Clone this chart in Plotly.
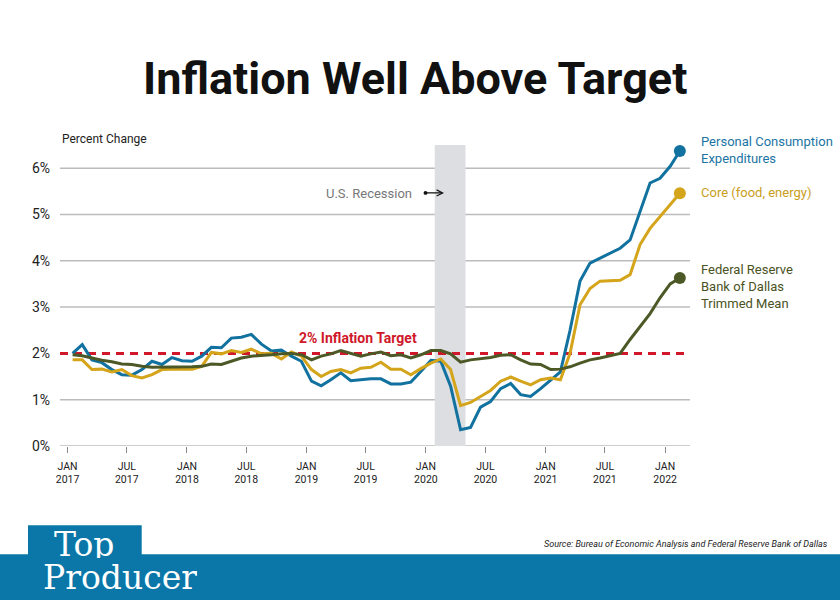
import plotly.graph_objects as go
import pandas as pd

# ---------------- data ----------------
months = pd.date_range("2017-01-01", "2022-02-01", freq="MS")

pce = [2.00, 2.19, 1.86, 1.80, 1.65, 1.54, 1.53, 1.65, 1.83, 1.76, 1.91, 1.84,
       1.83, 1.94, 2.13, 2.12, 2.33, 2.35, 2.41, 2.20, 2.05, 2.07, 1.94, 1.83,
       1.40, 1.30, 1.43, 1.58, 1.41, 1.43, 1.45, 1.45, 1.34, 1.34, 1.38, 1.61,
       1.85, 1.83, 1.29, 0.35, 0.40, 0.84, 0.96, 1.24, 1.35, 1.11, 1.07, 1.24,
       1.42, 1.60, 2.50, 3.56, 3.95, 4.06, 4.16, 4.27, 4.45, 5.08, 5.68, 5.78,
       6.04, 6.37]

core = [1.86, 1.86, 1.65, 1.66, 1.60, 1.65, 1.52, 1.47, 1.54, 1.65, 1.66, 1.66,
        1.66, 1.72, 2.02, 1.99, 2.06, 2.02, 2.09, 1.99, 2.00, 1.88, 2.03, 1.94,
        1.65, 1.50, 1.61, 1.65, 1.58, 1.68, 1.70, 1.81, 1.66, 1.66, 1.54, 1.67,
        1.79, 1.88, 1.65, 0.87, 0.94, 1.07, 1.20, 1.40, 1.49, 1.40, 1.32, 1.43,
        1.47, 1.43, 2.00, 3.05, 3.40, 3.56, 3.57, 3.58, 3.70, 4.35, 4.70, 4.95,
        5.20, 5.46]

trimmed = [1.97, 1.95, 1.90, 1.85, 1.82, 1.77, 1.76, 1.72, 1.70, 1.70, 1.70, 1.71,
           1.71, 1.72, 1.77, 1.76, 1.83, 1.90, 1.94, 1.95, 1.97, 1.99, 2.00, 1.97,
           1.86, 1.94, 1.99, 2.06, 2.00, 1.94, 1.99, 2.03, 1.95, 1.97, 1.90, 1.97,
           2.06, 2.06, 1.99, 1.81, 1.86, 1.88, 1.91, 1.96, 1.97, 1.86, 1.77, 1.76,
           1.65, 1.66, 1.71, 1.79, 1.86, 1.90, 1.95, 2.00, 2.30, 2.58, 2.86, 3.20,
           3.50, 3.63]

TARGET = 2.0
recession = ("2020-01-28", "2020-05-01")

tick_dates = ["2017-01-01", "2017-07-01", "2018-01-01", "2018-07-01", "2019-01-01",
              "2019-07-01", "2020-01-01", "2020-07-01", "2021-01-01", "2021-07-01",
              "2022-01-01"]
tick_text = ["JAN<br>2017", "JUL<br>2017", "JAN<br>2018", "JUL<br>2018", "JAN<br>2019",
             "JUL<br>2019", "JAN<br>2020", "JUL<br>2020", "JAN<br>2021", "JUL<br>2021",
             "JAN<br>2022"]
y_ticks = [0, 1, 2, 3, 4, 5, 6]
y_text = ["0%", "1%", "2%", "3%", "4%", "5%", "6%"]

# ---------------- style ----------------
BLUE = "#11719f"
GOLD = "#d4a41b"
GREEN = "#4c5926"
RED = "#d0182a"
BAND = "#0a77a8"
GRID = "#bcbcbc"
SANS = "Roboto, 'Liberation Sans', Arial, sans-serif"
SERIF = "'DejaVu Serif', 'Liberation Serif', serif"

W, H = 840, 600
L, R, T, B = 60, 690, 145, 446.5


def px(x, y):
    return (x - L) / (R - L), (B - y) / (B - T)


fig = go.Figure()

series = [(pce, BLUE), (core, GOLD), (trimmed, GREEN)]
for vals, col in series:
    fig.add_trace(go.Scatter(
        x=months, y=vals, mode="lines",
        line=dict(color=col, width=3),
        xperiod="M1", xperiodalignment="middle",
        hoverinfo="skip", showlegend=False))
for vals, col in series:
    fig.add_trace(go.Scatter(
        x=[months[-1]], y=[vals[-1]], mode="markers",
        marker=dict(color=col, size=12),
        xperiod="M1", xperiodalignment="middle",
        hoverinfo="skip", showlegend=False, cliponaxis=False))

# horizontal gridlines (none at the target level, which gets the dashed line)
for v in y_ticks:
    if v != TARGET:
        fig.add_shape(type="line", xref="paper", yref="y", x0=0, x1=1, y0=v, y1=v,
                      line=dict(color=GRID, width=1.5), layer="below")
# recession shading (covers gridlines)
fig.add_shape(type="rect", xref="x", yref="paper", x0=recession[0], x1=recession[1],
              y0=0, y1=1, fillcolor="#dddee1", line=dict(width=0), layer="below")
# target line
fig.add_shape(type="line", xref="paper", yref="y", x0=0, x1=1, y0=TARGET, y1=TARGET,
              line=dict(color=RED, width=3, dash="8px,6px"), layer="below")

# bottom band + logo box
bx0, by0 = px(-5, 555)
bx1, by1 = px(845, 605)
fig.add_shape(type="rect", xref="paper", yref="paper", x0=bx0, x1=bx1, y0=by0, y1=by1,
              fillcolor=BAND, line=dict(width=0), layer="above")
lx0, ly0 = px(28, 526)
lx1, ly1 = px(141.7, 556)
fig.add_shape(type="rect", xref="paper", yref="paper", x0=lx0, x1=lx1, y0=ly0, y1=ly1,
              fillcolor=BAND, line=dict(width=0), layer="above")


def note(text, x, y, size, color, xanchor="center", yanchor="middle", bold=False,
         family=SANS, italic=False, align="left", height=None):
    xp, yp = px(x, y)
    fig.add_annotation(text=text, x=xp, y=yp, xref="paper", yref="paper",
                       xanchor=xanchor, yanchor=yanchor, showarrow=False, align=align,
                       height=height, valign="middle",
                       font=dict(family=family, size=size, color=color,
                                 weight="bold" if bold else "normal",
                                 style="italic" if italic else "normal"))


note("Inflation Well Above Target", 415, 78, 45, "#111111", bold=True)
note("Percent Change", 60, 139, 12, "#222222", xanchor="left")
note("U.S. Recession", 414, 194, 13, "#777777", xanchor="right")
note("2% Inflation Target", 358, 338, 14, RED, bold=True)
note("Personal Consumption<br>Expenditures", 699, 150.5, 13, "#1b74a4", xanchor="left")
note("Core (food, energy)", 699, 193, 13, "#c99e1c", xanchor="left")
note("Federal Reserve<br>Bank of Dallas<br>Trimmed Mean", 699, 287, 13, "#4a5223", xanchor="left")
note("Source: Bureau of Economic Analysis and Federal Reserve Bank of Dallas", 830, 545,
     9, "#222222", xanchor="right", italic=True)
note("Top", 84, 545, 33, "white", family=SERIF, height=28)
note("Producer", 120, 578, 33, "white", family=SERIF, height=28)

# arrow next to U.S. Recession
ax1, ay1 = px(444, 193)
fig.add_annotation(x=ax1, y=ay1, ax=-20, ay=0, xref="paper", yref="paper",
                   text="", showarrow=True,
                   arrowhead=5, arrowside="end+start", startarrowhead=6,
                   arrowsize=1, startarrowsize=0.8, arrowwidth=1.2, arrowcolor="#111111")

fig.update_layout(
    width=W, height=H,
    margin=dict(l=L, r=W - R, t=T, b=H - B, pad=0),
    paper_bgcolor="white", plot_bgcolor="white",
    showlegend=False,
    font=dict(family=SANS, color="#222222"),
    xaxis=dict(type="date", range=["2016-12-09", "2022-03-18"],
               tickmode="array", tickvals=tick_dates, ticktext=tick_text,
               showgrid=False, zeroline=False, showline=False,
               ticks="outside", ticklen=6, tickwidth=1, tickcolor="#888888",
               tickfont=dict(family=SANS, size=10.5, color="#222222"),
               ticklabelstandoff=4, fixedrange=True),
    yaxis=dict(range=[0, 6.5], tickmode="array", tickvals=y_ticks, ticktext=y_text,
               showgrid=False, zeroline=False, showline=False, ticks="",
               tickfont=dict(family=SANS, size=14, color="#222222"),
               ticklabelstandoff=9, fixedrange=True),
)

fig.write_html("out.html", config={"displayModeBar": False},
               post_script="document.body.style.margin='0px';")
